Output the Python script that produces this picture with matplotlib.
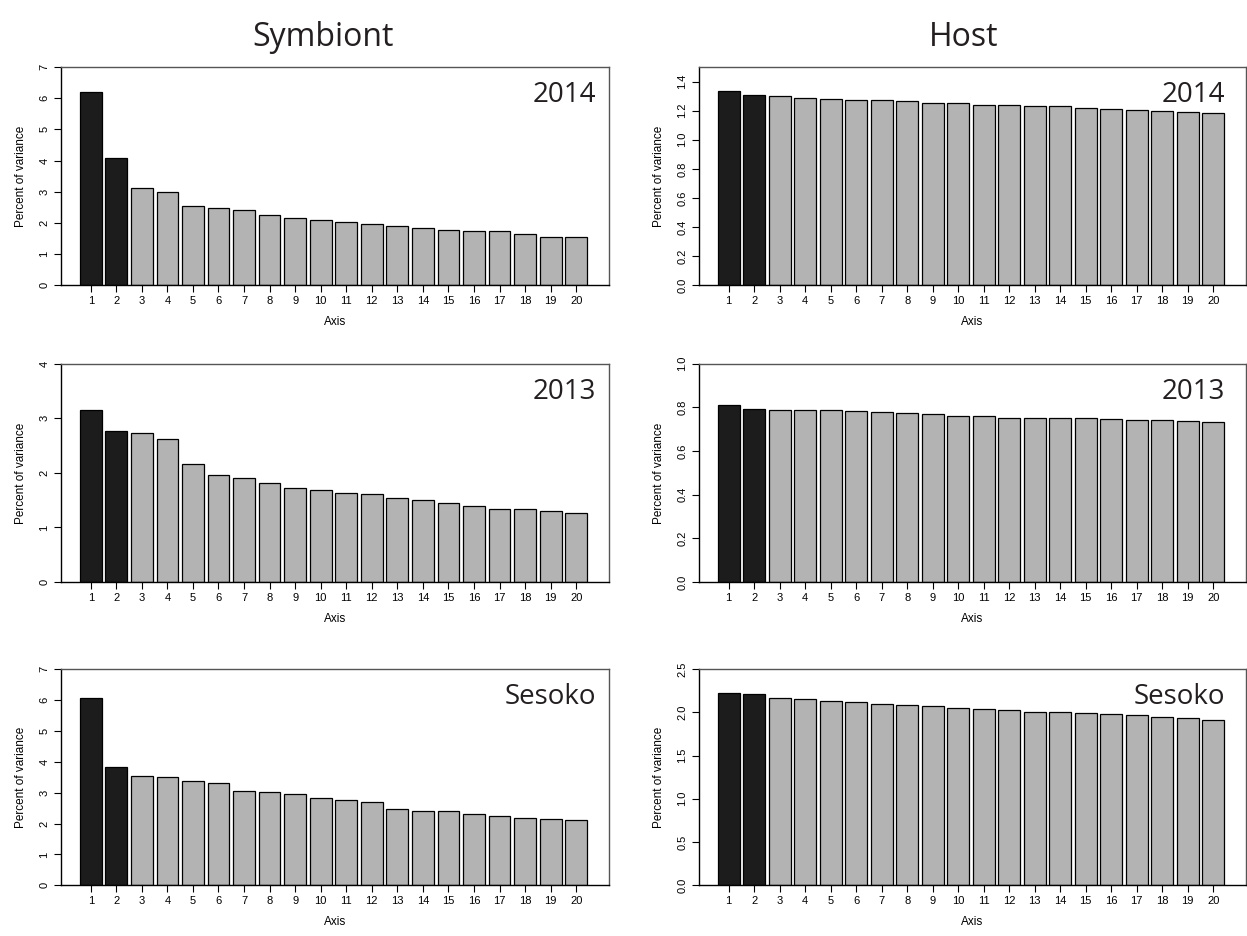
import matplotlib
matplotlib.use("Agg")
import matplotlib.pyplot as plt
import numpy as np

axes_idx = list(range(1, 21))

sym_2014 = [6.20, 4.08, 3.13, 3.00, 2.53, 2.49, 2.41, 2.27, 2.16, 2.09,
            2.03, 1.96, 1.89, 1.83, 1.78, 1.75, 1.74, 1.63, 1.56, 1.54]
sym_2013 = [3.15, 2.77, 2.73, 2.62, 2.16, 1.96, 1.91, 1.82, 1.72, 1.68,
            1.64, 1.61, 1.54, 1.50, 1.45, 1.39, 1.34, 1.33, 1.30, 1.27]
sym_sesoko = [6.05, 3.82, 3.55, 3.50, 3.36, 3.30, 3.06, 3.03, 2.94, 2.84,
              2.75, 2.68, 2.48, 2.42, 2.41, 2.30, 2.23, 2.19, 2.14, 2.10]
host_2014 = [1.334, 1.311, 1.300, 1.288, 1.279, 1.273, 1.270, 1.263, 1.256, 1.252,
             1.238, 1.236, 1.231, 1.230, 1.220, 1.211, 1.206, 1.199, 1.190, 1.183]
host_2013 = [0.811, 0.794, 0.790, 0.788, 0.787, 0.785, 0.778, 0.773, 0.770, 0.762,
             0.761, 0.753, 0.752, 0.752, 0.750, 0.747, 0.744, 0.742, 0.738, 0.733]
host_sesoko = [2.219, 2.211, 2.169, 2.157, 2.130, 2.119, 2.096, 2.084, 2.076, 2.045,
               2.042, 2.022, 2.007, 1.999, 1.992, 1.976, 1.968, 1.941, 1.938, 1.914]

col_titles = ["Symbiont", "Host"]
panel_labels = ["2014", "2013", "Sesoko"]
n_highlight = 2

W, H = 1247, 936
fig = plt.figure(figsize=(W / 100, H / 100), dpi=100)

# panel boxes in pixel coords: (left, right, top, bottom)
cols_px = [(60.7, 609.0), (698.7, 1246.0)]
rows_px = [(67.0, 285.3), (363.8, 582.0), (669.0, 885.3)]

panels = [
    [(sym_2014, 7, np.arange(0, 8, 1), "{:.0f}"), (host_2014, 1.5, np.arange(0, 1.41, 0.2), "{:.1f}")],
    [(sym_2013, 4, np.arange(0, 5, 1), "{:.0f}"), (host_2013, 1.0, np.arange(0, 1.01, 0.2), "{:.1f}")],
    [(sym_sesoko, 7, np.arange(0, 8, 1), "{:.0f}"), (host_sesoko, 2.5, np.arange(0, 2.51, 0.5), "{:.1f}")],
]
label_dx = [13, 21]

arial = "Liberation Sans"
myriad = "Open Sans"

centers = [1.2 * i - 0.5 for i in axes_idx]

for r, (top, bot) in enumerate(rows_px):
    for c, (lft, rgt) in enumerate(cols_px):
        vals, ymax, yt, fmt = panels[r][c]
        ax = fig.add_axes([lft / W, 1 - bot / H, (rgt - lft) / W, (bot - top) / H])
        colors = ["#1c1c1c" if i < n_highlight else "#b3b3b3" for i in range(len(vals))]
        ax.bar(centers, vals, width=1.02, color=colors, edgecolor="black", linewidth=0.9)
        ax.set_xlim(-0.71, 25.04)
        ax.set_ylim(0, ymax)
        ax.set_xticks(centers)
        ax.set_xticklabels([str(a) for a in axes_idx], fontsize=8, family=arial)
        ax.set_yticks(yt)
        ax.set_yticklabels([fmt.format(v) for v in yt], fontsize=8, family=arial,
                           rotation=90, va="center")
        ax.tick_params(axis="both", direction="out", length=5, width=0.8, color="black", pad=3)
        ax.set_xlabel("Axis", fontsize=8.5, family=arial, labelpad=7)
        ax.set_ylabel("Percent of variance", fontsize=8.5, family=arial, labelpad=9)
        for s in ["left", "bottom"]:
            ax.spines[s].set_color("black")
            ax.spines[s].set_linewidth(1.0)
        for s in ["top", "right"]:
            ax.spines[s].set_color("#555555")
            ax.spines[s].set_linewidth(1.0)
        ax.text(1 - label_dx[c] / (rgt - lft), 1 - 14 / (bot - top), panel_labels[r],
                transform=ax.transAxes, ha="right", va="top",
                fontsize=20, family=myriad, color="#231f20")

title_x = [323, 964]
for c, t in enumerate(col_titles):
    fig.text(title_x[c] / W, 1 - 37 / H, t, ha="center", va="center",
             fontsize=23, family=myriad, color="#231f20")

fig.savefig("out.png", dpi=100)
